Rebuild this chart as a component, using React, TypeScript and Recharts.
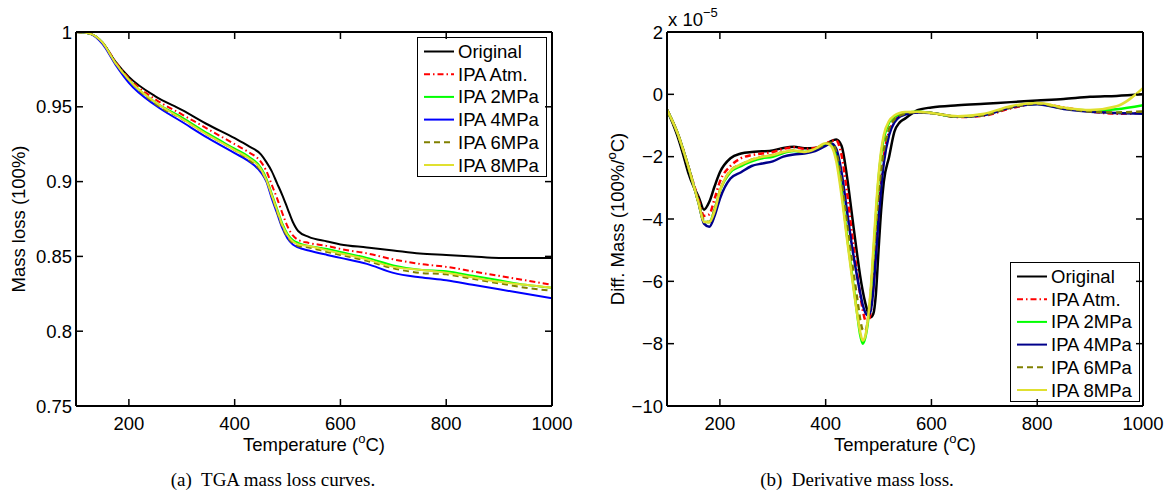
import React from "react";
import { LineChart, Line, XAxis, YAxis, Legend } from "recharts";

// ---- TGA mass loss (left panel) ----
const TEMP_TGA = [100, 125, 150, 175, 200, 250, 300, 350, 400, 425, 450, 460, 470, 480, 490, 500, 510, 520, 540, 575, 600, 650, 700, 750, 800, 850, 900, 950, 1000];
const TGA_ORIGINAL = [1.0, 0.999, 0.993, 0.98, 0.97, 0.957, 0.948, 0.938, 0.929, 0.924, 0.918, 0.913, 0.907, 0.899, 0.891, 0.882, 0.873, 0.867, 0.863, 0.86, 0.858, 0.856, 0.854, 0.852, 0.851, 0.85, 0.849, 0.849, 0.849];
const TGA_ATM = [1.0, 0.999, 0.993, 0.98, 0.969, 0.955, 0.945, 0.935, 0.925, 0.92, 0.913, 0.907, 0.898, 0.889, 0.879, 0.87, 0.864, 0.861, 0.859, 0.857, 0.855, 0.852, 0.848, 0.845, 0.843, 0.84, 0.837, 0.834, 0.831];
const TGA_2MPA = [1.0, 0.999, 0.993, 0.979, 0.968, 0.953, 0.943, 0.932, 0.922, 0.917, 0.909, 0.902, 0.892, 0.882, 0.872, 0.865, 0.861, 0.859, 0.857, 0.855, 0.853, 0.849, 0.844, 0.841, 0.84, 0.837, 0.834, 0.831, 0.829];
const TGA_4MPA = [1.0, 0.999, 0.992, 0.978, 0.966, 0.951, 0.94, 0.929, 0.919, 0.914, 0.906, 0.9, 0.889, 0.879, 0.869, 0.862, 0.858, 0.856, 0.854, 0.851, 0.849, 0.845, 0.839, 0.836, 0.834, 0.831, 0.828, 0.825, 0.822];
const TGA_6MPA = [1.0, 0.999, 0.993, 0.979, 0.968, 0.952, 0.942, 0.931, 0.921, 0.915, 0.907, 0.901, 0.891, 0.88, 0.87, 0.863, 0.859, 0.857, 0.856, 0.853, 0.851, 0.847, 0.842, 0.839, 0.838, 0.835, 0.832, 0.829, 0.827];
const TGA_8MPA = [1.0, 0.999, 0.993, 0.979, 0.968, 0.953, 0.942, 0.931, 0.921, 0.916, 0.908, 0.901, 0.891, 0.881, 0.871, 0.864, 0.86, 0.858, 0.857, 0.854, 0.852, 0.848, 0.843, 0.841, 0.839, 0.836, 0.833, 0.831, 0.829];

// ---- derivative mass loss (right panel), values in units of 1e-5 ----
const TEMP_DTG = [100, 110, 120, 130, 140, 150, 160, 170, 180, 190, 200, 220, 240, 260, 280, 300, 320, 340, 360, 380, 400, 410, 420, 430, 440, 450, 460, 465, 470, 475, 480, 485, 490, 495, 500, 505, 510, 520, 530, 540, 550, 575, 600, 650, 700, 750, 800, 850, 900, 950, 1000];
const DTG_ORIGINAL = [-0.5, -0.9, -1.35, -1.9, -2.5, -2.95, -3.3, -3.7, -3.45, -2.95, -2.5, -2.05, -1.9, -1.85, -1.83, -1.8, -1.72, -1.68, -1.73, -1.72, -1.6, -1.5, -1.45, -1.65, -2.6, -3.9, -5.2, -5.8, -6.3, -6.7, -7.0, -7.15, -7.05, -6.4, -5.0, -3.7, -2.8, -2.0, -1.2, -0.9, -0.78, -0.5, -0.42, -0.35, -0.3, -0.25, -0.2, -0.15, -0.08, -0.05, 0.0];
const DTG_ATM = [-0.5, -0.85, -1.25, -1.75, -2.3, -2.85, -3.4, -3.9, -3.85, -3.35, -2.8, -2.3, -2.05, -1.95, -1.9, -1.85, -1.75, -1.7, -1.75, -1.72, -1.6, -1.5, -1.48, -1.95, -3.1, -4.5, -5.8, -6.4, -6.9, -7.25, -7.3, -7.0, -6.2, -5.0, -3.8, -2.8, -2.0, -1.2, -0.85, -0.7, -0.63, -0.58, -0.6, -0.73, -0.68, -0.45, -0.3, -0.42, -0.55, -0.62, -0.6];
const DTG_2MPA = [-0.5, -0.85, -1.25, -1.75, -2.3, -2.9, -3.5, -4.1, -4.1, -3.7, -3.1, -2.5, -2.3, -2.15, -2.05, -2.0, -1.88, -1.82, -1.85, -1.78, -1.6, -1.6, -2.0, -3.1, -4.5, -5.8, -7.1, -7.7, -8.0, -7.8, -7.3, -6.5, -5.2, -3.9, -2.7, -1.9, -1.4, -0.9, -0.72, -0.63, -0.6, -0.56, -0.6, -0.72, -0.65, -0.4, -0.3, -0.45, -0.52, -0.48, -0.35];
const DTG_4MPA = [-0.5, -0.85, -1.25, -1.75, -2.3, -2.9, -3.5, -4.15, -4.25, -3.9, -3.35, -2.7, -2.5, -2.3, -2.22, -2.15, -2.0, -1.93, -1.9, -1.82, -1.65, -1.57, -1.75, -2.5, -3.7, -4.9, -5.9, -6.35, -6.75, -7.0, -7.1, -6.95, -6.3, -5.2, -4.0, -3.0, -2.2, -1.3, -0.9, -0.72, -0.65, -0.58, -0.6, -0.72, -0.66, -0.42, -0.32, -0.47, -0.56, -0.6, -0.62];
const DTG_6MPA = [-0.5, -0.85, -1.25, -1.75, -2.3, -2.9, -3.5, -4.05, -4.1, -3.7, -3.1, -2.45, -2.25, -2.1, -2.0, -1.95, -1.85, -1.8, -1.85, -1.76, -1.6, -1.55, -1.85, -2.8, -4.1, -5.4, -6.6, -7.2, -7.55, -7.6, -7.2, -6.4, -5.3, -4.2, -3.2, -2.4, -1.8, -1.1, -0.8, -0.68, -0.62, -0.57, -0.6, -0.72, -0.66, -0.42, -0.3, -0.45, -0.55, -0.58, -0.55];
const DTG_8MPA = [-0.5, -0.85, -1.25, -1.75, -2.3, -2.9, -3.5, -4.1, -4.1, -3.75, -3.1, -2.45, -2.25, -2.1, -2.0, -1.95, -1.85, -1.8, -1.85, -1.75, -1.57, -1.65, -2.15, -3.25, -4.6, -5.9, -7.1, -7.6, -7.9, -7.75, -7.2, -6.3, -5.0, -3.7, -2.6, -1.8, -1.3, -0.85, -0.68, -0.6, -0.57, -0.56, -0.6, -0.7, -0.62, -0.38, -0.28, -0.42, -0.5, -0.38, 0.2];

const X_DOMAIN: [number, number] = [100, 1000];
const X_TICKS = [200, 400, 600, 800, 1000];
const TGA_Y_TICKS = [0.75, 0.8, 0.85, 0.9, 0.95, 1];
const DTG_Y_TICKS = [-10, -8, -6, -4, -2, 0, 2];
const SERIES_NAMES = ["Original", "IPA Atm.", "IPA 2MPa", "IPA 4MPa", "IPA 6MPa", "IPA 8MPa"];

const FONT = "'Liberation Sans', Arial, Helvetica, sans-serif";
const SERIF = "'Liberation Serif', 'Times New Roman', serif";
const KEYS = ["original", "atm", "mpa2", "mpa4", "mpa6", "mpa8"];

// plot box geometry (px)
const PLOT_TOP = 32;
const PLOT_W = 476;
const PLOT_H = 374;
const Y_AXIS_W = 76;
const TICK_PX = 7;

type Style = { color: string; dash?: string };
const STYLE_LEFT: Style[] = [
  { color: "#000000" },
  { color: "#ff0000", dash: "6 3 1.5 3" },
  { color: "#00ff00" },
  { color: "#0000ff" },
  { color: "#808000", dash: "6 4" },
  { color: "#e0e030" },
];
const STYLE_RIGHT: Style[] = STYLE_LEFT.map((s, i) => (i === 3 ? { color: "#00008b" } : s));

const tgaRows = TEMP_TGA.map((t, i) => ({
  t,
  original: TGA_ORIGINAL[i],
  atm: TGA_ATM[i],
  mpa2: TGA_2MPA[i],
  mpa4: TGA_4MPA[i],
  mpa6: TGA_6MPA[i],
  mpa8: TGA_8MPA[i],
}));

const dtgRows = TEMP_DTG.map((t, i) => ({
  t,
  original: DTG_ORIGINAL[i],
  atm: DTG_ATM[i],
  mpa2: DTG_2MPA[i],
  mpa4: DTG_4MPA[i],
  mpa6: DTG_6MPA[i],
  mpa8: DTG_8MPA[i],
}));

function LegendBox({ styles }: { styles: Style[] }) {
  const w = 130;
  const h = 140;
  return (
    <svg width={w} height={h} style={{ display: "block" }}>
      <rect x={0.5} y={0.5} width={w - 1} height={h - 1} fill="#fff" stroke="#000" strokeWidth={1} />
      {SERIES_NAMES.map((name, i) => {
        const cy = 14.5 + i * 22.7;
        return (
          <g key={name}>
            <line x1={7} x2={37} y1={cy} y2={cy} stroke={styles[i].color} strokeWidth={2} strokeDasharray={styles[i].dash} />
            <text x={41} y={cy + 6.5} fontSize={18.5} fontFamily={FONT} fill="#000">
              {name}
            </text>
          </g>
        );
      })}
    </svg>
  );
}

// text with a superscript "o" before "C)"
function DegLabel({ x, y, prefix, rotate }: { x: number; y: number; prefix: string; rotate?: boolean }) {
  return (
    <text
      x={x}
      y={y}
      textAnchor="middle"
      fontSize={18.5}
      fontFamily={FONT}
      fill="#000"
      transform={rotate ? `rotate(-90, ${x}, ${y})` : undefined}
    >
      {prefix}
      <tspan fontSize={13} dy={-8}>o</tspan>
      <tspan dy={8}>C)</tspan>
    </text>
  );
}

// MATLAB-style inward ticks on all four sides of a plot box
function BoxTicks({ plotLeft, yDomain, yTicks }: { plotLeft: number; yDomain: [number, number]; yTicks: number[] }) {
  const [x0, x1] = X_DOMAIN;
  const [y0, y1] = yDomain;
  const bottom = PLOT_TOP + PLOT_H;
  const right = plotLeft + PLOT_W;
  const sx = (v: number) => plotLeft + ((v - x0) / (x1 - x0)) * PLOT_W;
  const sy = (v: number) => PLOT_TOP + ((y1 - v) / (y1 - y0)) * PLOT_H;
  return (
    <g stroke="#000" strokeWidth={1.5}>
      {X_TICKS.map((v) => (
        <g key={"x" + v}>
          <line x1={sx(v)} x2={sx(v)} y1={bottom} y2={bottom - TICK_PX} />
          <line x1={sx(v)} x2={sx(v)} y1={PLOT_TOP} y2={PLOT_TOP + TICK_PX} />
        </g>
      ))}
      {yTicks.map((v) => (
        <g key={"y" + v}>
          <line x1={plotLeft} x2={plotLeft + TICK_PX} y1={sy(v)} y2={sy(v)} />
          <line x1={right} x2={right - TICK_PX} y1={sy(v)} y2={sy(v)} />
        </g>
      ))}
    </g>
  );
}

const axisLine = { stroke: "#000", strokeWidth: 2 };
const tickText = { fill: "#000", fontSize: 18.5, fontFamily: FONT };
const noText = () => "";

function fmtTga(v: number) {
  return String(Number(v.toFixed(2)));
}
function fmtDtg(v: number) {
  return v < 0 ? "\u2212" + Math.abs(v) : String(v);
}

type PanelProps = {
  left: number;
  rows: any[];
  styles: Style[];
  lineWidth: number;
  yDomain: [number, number];
  yTicks: number[];
  fmt: (v: number) => string;
  legendPos: { left: number; top: number };
};

function Panel({ left, rows, styles, lineWidth, yDomain, yTicks, fmt, legendPos }: PanelProps) {
  return (
    <div style={{ position: "absolute", left, top: 0 }}>
      <LineChart
        width={Y_AXIS_W + PLOT_W + 26}
        height={460}
        data={rows}
        margin={{ top: PLOT_TOP - 1, right: 25, bottom: 0, left: 0 }}
      >
        <XAxis
          dataKey="t"
          type="number"
          domain={X_DOMAIN}
          ticks={X_TICKS}
          interval={0}
          allowDataOverflow
          height={460 - PLOT_TOP - PLOT_H}
          tickSize={-7}
          tickMargin={18}
          stroke="#000"
          axisLine={axisLine}
          tickLine={false}
          tick={tickText}
        />
        <XAxis
          xAxisId="top"
          orientation="top"
          dataKey="t"
          type="number"
          domain={X_DOMAIN}
          ticks={X_TICKS}
          interval={0}
          allowDataOverflow
          height={1}
          stroke="#000"
          axisLine={axisLine}
          tickLine={false}
          tick={tickText}
          tickFormatter={noText}
        />
        <YAxis
          type="number"
          domain={yDomain}
          ticks={yTicks}
          interval={0}
          allowDataOverflow
          width={Y_AXIS_W}
          tickSize={-7}
          tickMargin={11}
          tickFormatter={fmt}
          stroke="#000"
          axisLine={axisLine}
          tickLine={false}
          tick={tickText}
        />
        <YAxis
          yAxisId="right"
          orientation="right"
          type="number"
          domain={yDomain}
          ticks={yTicks}
          interval={0}
          allowDataOverflow
          width={1}
          stroke="#000"
          axisLine={axisLine}
          tickLine={false}
          tick={tickText}
          tickFormatter={noText}
        />
        {KEYS.map((k, i) => (
          <Line
            key={k}
            type="monotone"
            dataKey={k}
            stroke={styles[i].color}
            strokeWidth={lineWidth}
            strokeDasharray={styles[i].dash}
            dot={false}
            isAnimationActive={false}
          />
        ))}
        <Legend
          layout="vertical"
          align="center"
          verticalAlign="middle"
          wrapperStyle={{ left: legendPos.left, top: legendPos.top, width: 130, height: 140 }}
          content={() => <LegendBox styles={styles} />}
        />
      </LineChart>
    </div>
  );
}

export default function App() {
  return (
    <div style={{ position: "absolute", left: 0, top: 0, width: 1169, height: 496, background: "#fff", overflow: "hidden" }}>
      <Panel
        left={0}
        rows={tgaRows}
        styles={STYLE_LEFT}
        lineWidth={2}
        yDomain={[0.75, 1]}
        yTicks={TGA_Y_TICKS}
        fmt={fmtTga}
        legendPos={{ left: 417, top: 37 }}
      />
      <Panel
        left={591}
        rows={dtgRows}
        styles={STYLE_RIGHT}
        lineWidth={2.5}
        yDomain={[-10, 2]}
        yTicks={DTG_Y_TICKS}
        fmt={fmtDtg}
        legendPos={{ left: 1010 - 591, top: 262 }}
      />
      <svg width={1169} height={496} style={{ position: "absolute", left: 0, top: 0, pointerEvents: "none" }}>
        <BoxTicks plotLeft={Y_AXIS_W} yDomain={[0.75, 1]} yTicks={TGA_Y_TICKS} />
        <BoxTicks plotLeft={591 + Y_AXIS_W} yDomain={[-10, 2]} yTicks={DTG_Y_TICKS} />
        <text x={25} y={219} textAnchor="middle" fontSize={18.5} fontFamily={FONT} fill="#000" transform="rotate(-90, 25, 219)">
          Mass loss (100%)
        </text>
        <DegLabel x={624} y={219} prefix="Diff. Mass (100%/" rotate />
        <DegLabel x={314} y={451} prefix="Temperature (" />
        <DegLabel x={905} y={451} prefix="Temperature (" />
        <text x={668} y={26} fontSize={18.5} fontFamily={FONT} fill="#000">
          x 10
          <tspan fontSize={13} dy={-9}>{"\u22125"}</tspan>
        </text>
        <text x={273} y={486} textAnchor="middle" fontSize={19} fontFamily={SERIF} fill="#000" style={{ whiteSpace: "pre" }}>
          {"(a)  TGA mass loss curves."}
        </text>
        <text x={857} y={486} textAnchor="middle" fontSize={19} fontFamily={SERIF} fill="#000" style={{ whiteSpace: "pre" }}>
          {"(b)  Derivative mass loss."}
        </text>
      </svg>
    </div>
  );
}
